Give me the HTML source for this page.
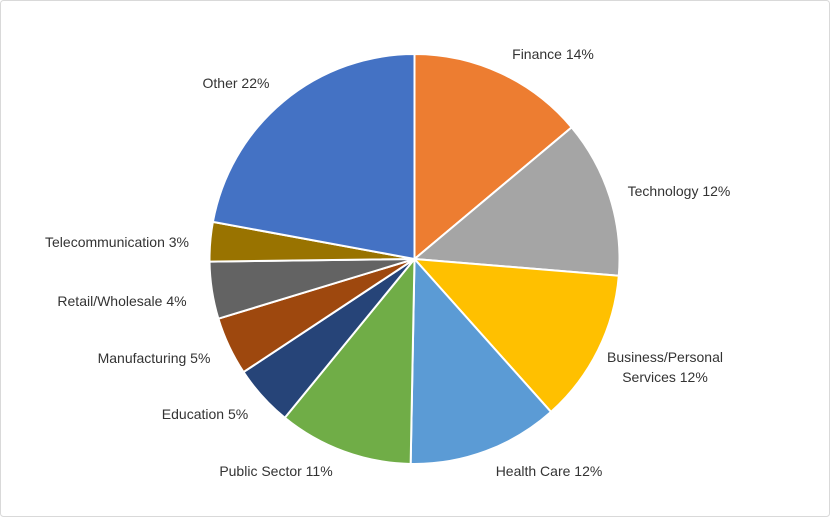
<!DOCTYPE html>
<html><head><style>
body{margin:0;background:#fff;}
svg{display:block;font-family:"Liberation Sans",sans-serif;}
</style></head><body>
<svg id="s" width="831" height="518" xmlns="http://www.w3.org/2000/svg">
<rect x="0.5" y="0.5" width="829" height="516" rx="3" fill="#fff" stroke="#d9d9d9"/>
<g id="p"></g>
<g font-size="14" fill="#333" text-anchor="middle">
<text x="553" y="59">Finance 14%</text>
<text x="679" y="196">Technology 12%</text>
<text x="665" y="362">Business/Personal</text>
<text x="665" y="382">Services 12%</text>
<text x="549" y="476">Health Care 12%</text>
<text x="276" y="476">Public Sector 11%</text>
<text x="205" y="419">Education 5%</text>
<text x="154" y="363">Manufacturing 5%</text>
<text x="122" y="306">Retail/Wholesale 4%</text>
<text x="117" y="247">Telecommunication 3%</text>
<text x="236" y="88">Other 22%</text>
</g>
</svg>
<script>
var cx=414.5,cy=259,r=205;
var cum=[0,13.9,26.3,38.4,50.3,60.9,65.7,70.3,74.8,77.9,100];
var col=["#ED7D31","#A5A5A5","#FFC000","#5B9BD5","#70AD47","#264478","#9E480E","#636363","#997300","#4472C4"];
function pt(p){var a=p/100*2*Math.PI;return [cx+r*Math.sin(a),cy-r*Math.cos(a)];}
var h="";
for(var i=0;i<10;i++){var a=pt(cum[i]),b=pt(cum[i+1]);var lg=(cum[i+1]-cum[i])>50?1:0;
h+='<path d="M'+cx+','+cy+' L'+a[0].toFixed(2)+','+a[1].toFixed(2)+' A'+r+','+r+' 0 '+lg+' 1 '+b[0].toFixed(2)+','+b[1].toFixed(2)+' Z" fill="'+col[i]+'" stroke="#fff" stroke-width="2" stroke-linejoin="round"/>';}
document.getElementById("p").innerHTML=h;
</script>
</body></html>
